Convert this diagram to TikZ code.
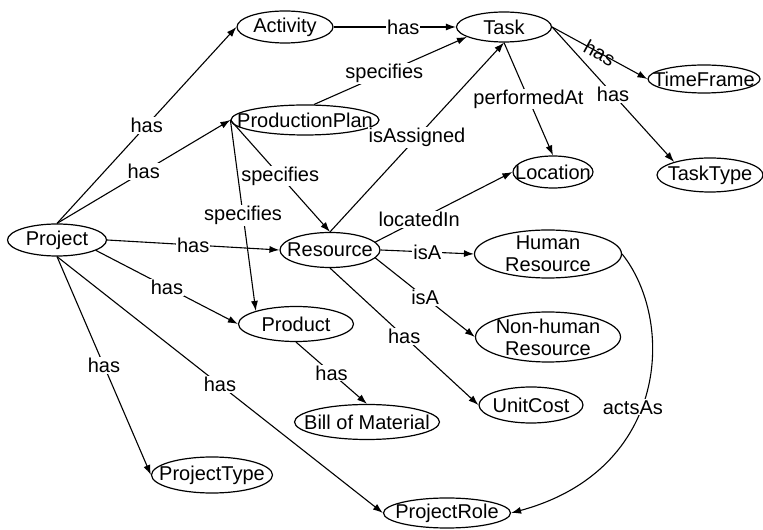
\documentclass[tikz,border=0pt]{standalone}
\usepackage{fontspec}
\setmainfont{Liberation Sans}
\usetikzlibrary{shapes,arrows.meta,positioning}

\begin{document}
\begin{tikzpicture}[x=1pt,y=1pt,font=\fontsize{20}{22}\selectfont,
  concept/.style={ellipse,draw,line width=1.2pt,inner xsep=-40pt,inner ysep=-12pt,minimum height=32pt,align=center},
  rel/.style={line width=1.1pt,-{Latex[length=10pt,width=7pt]}},
  lbl/.style={fill=white,inner sep=1pt}]
\useasboundingbox (0,0) rectangle (763,530);
% concepts
\node[concept,minimum width=99pt](project) at (57,290){Project};
\node[concept,minimum width=96pt](activity) at (285,503){Activity};
\node[concept,minimum width=95pt,minimum height=30pt](task) at (504,503){Task};
\node[concept,minimum width=148pt,minimum height=30pt](plan) at (305,410){ProductionPlan};
\node[concept,minimum width=112pt,minimum height=28pt](timeframe) at (704,451){TimeFrame};
\node[concept,minimum width=80pt](location) at (553,358){Location};
\node[concept,minimum width=106pt,minimum height=34pt](tasktype) at (710,355){TaskType};
\node[concept,minimum width=100pt,minimum height=35pt](resource) at (330,280){Resource};
\node[concept,minimum width=147pt,minimum height=48pt](human) at (548,276){Human\\Resource};
\node[concept,minimum width=115pt,minimum height=35pt](product) at (296,206){Product};
\node[concept,minimum width=145pt,minimum height=50pt](nonhuman) at (548,193){Non-human\\Resource};
\node[concept,minimum width=104pt,minimum height=36pt](unitcost) at (531,125){UnitCost};
\node[concept,minimum width=145pt,minimum height=35pt](bom) at (367,108){Bill of Material};
\node[concept,minimum width=121pt,minimum height=36pt](projtype) at (212,55){ProjectType};
\node[concept,minimum width=127pt,minimum height=30pt](role) at (447,17){ProjectRole};
% relations
\draw[rel] (project.north) -- node[lbl]{has} (activity.west);
\draw[rel] (project.north) -- node[lbl]{has} (plan.west);
\draw[rel] (project.east) -- node[lbl]{has} (resource.west);
\draw[rel] (project.-15) -- node[lbl]{has} (product.west);
\draw[rel] (project.south) -- node[lbl]{has} (projtype.west);
\draw[rel] (project.south) -- node[lbl]{has} (role.west);
\draw[rel] (activity.east) -- node[lbl,pos=0.57]{has} (task.west);
\draw[rel] (plan.60) -- node[lbl,pos=0.46]{specifies} (task.195);
\draw[rel] (plan.west) -- node[lbl]{specifies} (resource.north);
\draw[rel] (plan.west) -- node[lbl]{specifies} (product.162);
\draw[rel] (resource.north) -- node[lbl]{isAssigned} (task.south);
\draw[rel] (task.south) -- node[lbl]{performedAt} (location.north);
\draw[rel] (task.east) -- node[sloped,inner sep=1pt]{has} (timeframe.west);
\draw[rel] (task.east) -- node[lbl]{has} (tasktype.160);
\draw[rel] (resource.10) -- node[lbl,pos=0.32]{locatedIn} (location.west);
\draw[rel] (resource.east) -- node[lbl]{isA} (human.west);
\draw[rel] (resource.-10) -- node[lbl]{isA} (nonhuman.west);
\draw[rel] (resource.south) -- node[lbl]{has} (unitcost.west);
\draw[rel] (product.south) -- node[lbl]{has} (bom.north);
\draw[rel] (human.east) .. controls (675,210) and (670,60) .. node[lbl,pos=0.55,xshift=-8pt]{actsAs} (role.east);
\end{tikzpicture}
\end{document}
